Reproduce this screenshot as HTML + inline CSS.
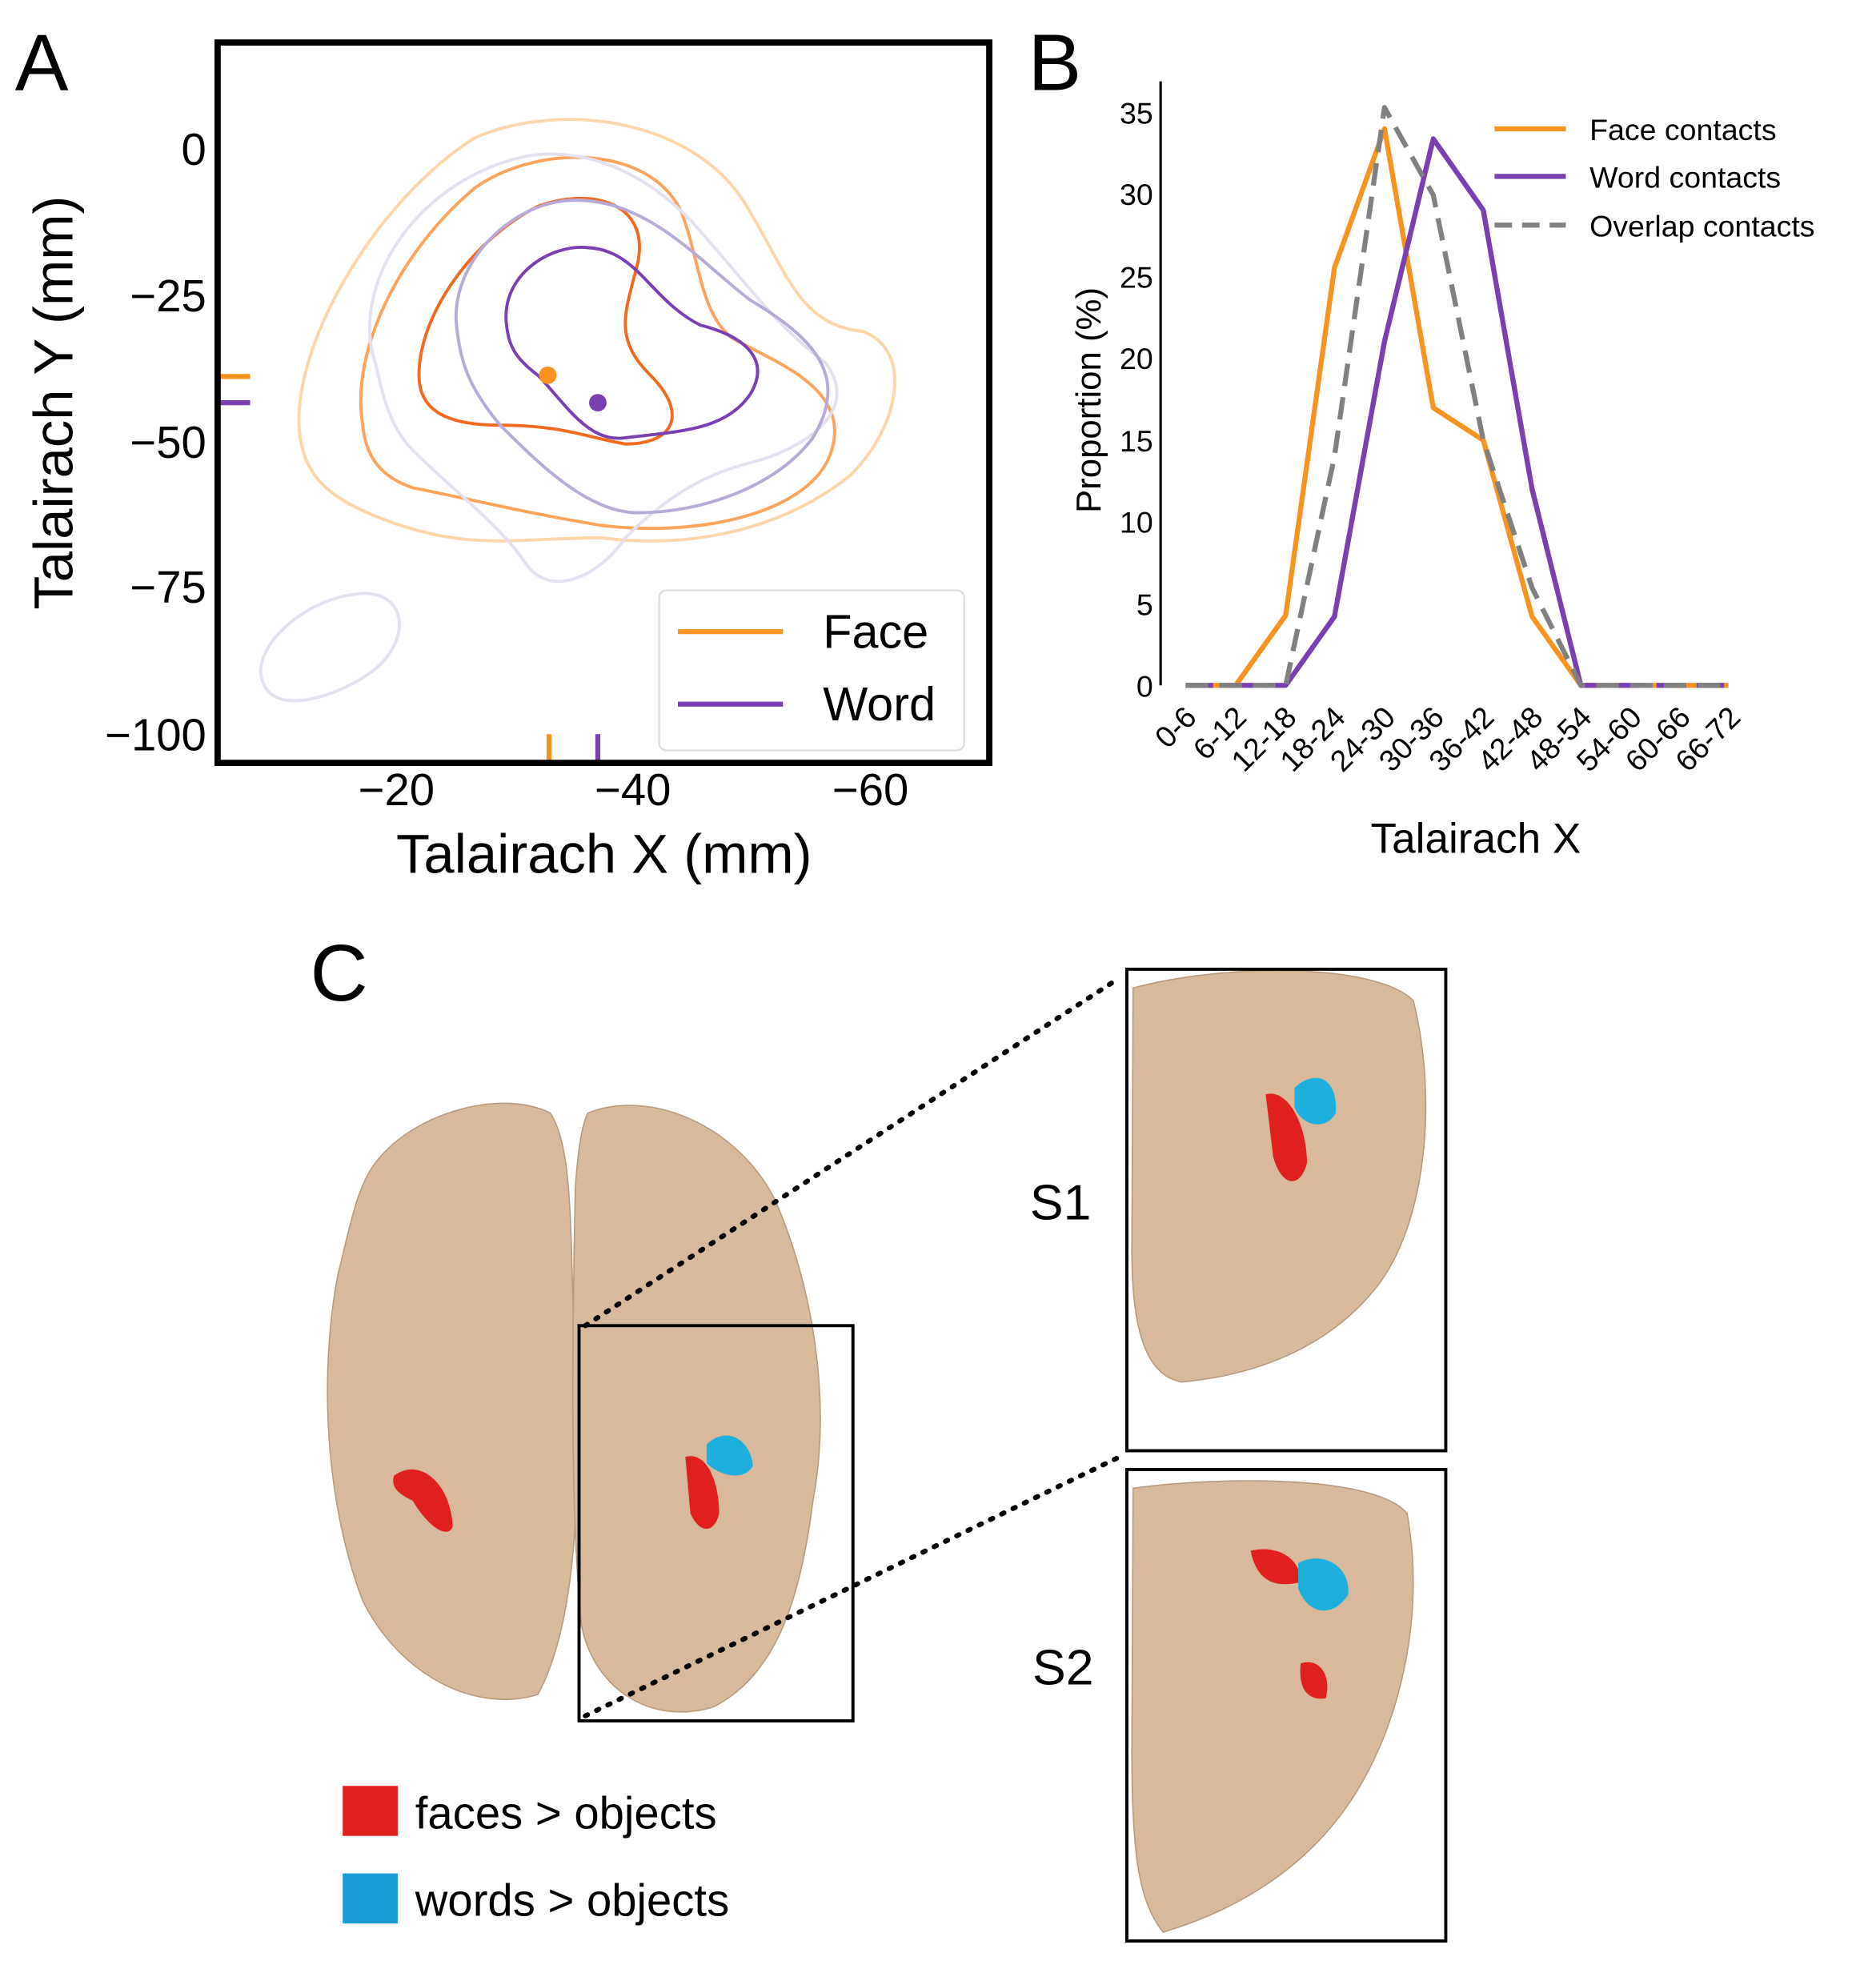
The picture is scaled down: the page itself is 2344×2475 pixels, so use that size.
<!DOCTYPE html>
<html><head><meta charset="utf-8"><style>
html,body{margin:0;padding:0;background:#fff;}
svg{display:block;}
text{font-family:"Liberation Sans",sans-serif;}
</style></head><body>
<svg width="2344" height="2475" viewBox="0 0 1500 1584" preserveAspectRatio="none" xmlns="http://www.w3.org/2000/svg">
<rect width="1500" height="1584" fill="#fff"/>
<!-- Panel A -->
<text x="12" y="72" font-size="64">A</text>
<g fill="none" stroke-width="2.5">
<path d="M240,350 C230,280 300,160 380,110 C450,80 560,95 600,170 C630,220 640,260 690,265 C730,280 720,340 680,380 C630,420 560,440 480,430 C420,430 380,440 320,420 C260,400 245,380 240,350Z" stroke="#fdd5a8"/>
<path d="M290,340 C280,280 320,200 380,150 C430,115 520,115 545,170 C560,210 560,250 585,270 C620,290 680,310 665,360 C650,410 560,430 480,420 C420,410 380,400 330,390 C300,380 292,360 290,340Z" stroke="#fda35a"/>
<path d="M335,300 C335,250 380,190 430,165 C470,150 520,160 510,210 C500,250 490,270 520,300 C550,330 540,355 500,355 C470,350 450,340 400,340 C360,340 335,330 335,300Z" stroke="#f26a1e"/>
<path d="M300,290 C280,230 330,145 420,125 C480,115 530,150 560,185 C600,230 620,260 660,290 C690,330 640,360 600,370 C560,380 530,400 500,430 C480,460 440,480 420,450 C400,420 360,390 330,360 C310,340 305,310 300,290Z" stroke="#e3e0f0"/>
<path d="M365,260 C360,210 410,160 460,160 C520,160 560,210 600,240 C650,270 680,300 650,350 C620,390 560,410 510,410 C470,410 430,370 400,340 C375,310 368,290 365,260Z" stroke="#b8aad8"/>
<path d="M405,260 C400,220 440,195 470,198 C510,200 520,240 560,260 C600,270 615,290 600,315 C580,345 540,345 500,350 C470,355 450,320 430,300 C410,285 407,275 405,260Z" stroke="#7a3fb0"/>
<path d="M210,545 C200,520 240,480 285,475 C325,470 330,510 300,535 C275,555 220,575 210,545Z" stroke="#e3e0f0"/>
</g>
<circle cx="438" cy="300" r="7" fill="#f7931e"/>
<circle cx="478" cy="322" r="7" fill="#7a3fb0"/>
<line x1="174" y1="301" x2="200" y2="301" stroke="#f7931e" stroke-width="4"/>
<line x1="174" y1="322" x2="200" y2="322" stroke="#7a3fb0" stroke-width="4"/>
<line x1="439" y1="587" x2="439" y2="610" stroke="#f7931e" stroke-width="4"/>
<line x1="478" y1="587" x2="478" y2="610" stroke="#7a3fb0" stroke-width="4"/>
<rect x="527" y="472" width="244" height="128" rx="6" fill="#fff" stroke="#ddd" stroke-width="1.5"/>
<line x1="542" y1="505" x2="626" y2="505" stroke="#f7931e" stroke-width="4"/>
<line x1="542" y1="563" x2="626" y2="563" stroke="#7a3fb0" stroke-width="4"/>
<text x="658" y="518" font-size="38">Face</text>
<text x="658" y="576" font-size="38">Word</text>
<rect x="174" y="34" width="617" height="576" fill="none" stroke="#000" stroke-width="5"/>
<g font-size="36" text-anchor="end">
<text x="165" y="132">0</text><text x="165" y="249">−25</text><text x="165" y="366">−50</text><text x="165" y="482">−75</text><text x="165" y="600">−100</text>
</g>
<g font-size="36" text-anchor="middle">
<text x="317" y="644">−20</text><text x="506" y="644">−40</text><text x="696" y="644">−60</text>
</g>
<text x="483" y="698" font-size="44" text-anchor="middle">Talairach X (mm)</text>
<text transform="translate(58,322) rotate(-90)" font-size="44" text-anchor="middle">Talairach Y (mm)</text>
<!-- Panel B -->
<text x="822" y="72" font-size="64">B</text>
<line x1="928" y1="65" x2="928" y2="548" stroke="#000" stroke-width="2"/>
<g font-size="24" text-anchor="end">
<text x="922" y="557">0</text><text x="922" y="492">5</text><text x="922" y="426">10</text><text x="922" y="361">15</text><text x="922" y="295">20</text><text x="922" y="230">25</text><text x="922" y="164">30</text><text x="922" y="99">35</text>
</g>
<text transform="translate(880,320) rotate(-90)" font-size="28" text-anchor="middle">Proportion (%)</text>
<g fill="none" stroke-width="4" stroke-linejoin="round">
<polyline stroke="#f7931e" points="948,548 988,548 1028,492 1067,214 1107,103 1146,326 1186,352 1225,493 1264,548 1382,548"/>
<polyline stroke="#7a3fb0" points="948,548 1028,548 1067,493 1107,273 1146,111 1186,168 1225,391 1264,548 1382,548" stroke-dasharray="22,10"/>
<polyline stroke="#7a3fb0" points="1028,548 1067,493 1107,273 1146,111 1186,168 1225,391 1264,548"/>
<polyline stroke="#808080" points="948,548 1028,548 1067,365 1107,86 1146,156 1186,352 1225,470 1264,548 1382,548" stroke-dasharray="18,9"/>
</g>
<g font-size="24">
<text transform="translate(958,575) rotate(-45)" text-anchor="end">0-6</text>
<text transform="translate(998,575) rotate(-45)" text-anchor="end">6-12</text>
<text transform="translate(1038,575) rotate(-45)" text-anchor="end">12-18</text>
<text transform="translate(1077,575) rotate(-45)" text-anchor="end">18-24</text>
<text transform="translate(1117,575) rotate(-45)" text-anchor="end">24-30</text>
<text transform="translate(1156,575) rotate(-45)" text-anchor="end">30-36</text>
<text transform="translate(1196,575) rotate(-45)" text-anchor="end">36-42</text>
<text transform="translate(1235,575) rotate(-45)" text-anchor="end">42-48</text>
<text transform="translate(1274,575) rotate(-45)" text-anchor="end">48-54</text>
<text transform="translate(1314,575) rotate(-45)" text-anchor="end">54-60</text>
<text transform="translate(1353,575) rotate(-45)" text-anchor="end">60-66</text>
<text transform="translate(1393,575) rotate(-45)" text-anchor="end">66-72</text>
</g>
<text x="1180" y="682" font-size="34" text-anchor="middle">Talairach X</text>
<line x1="1195" y1="103" x2="1252" y2="103" stroke="#f7931e" stroke-width="4"/>
<line x1="1195" y1="141" x2="1252" y2="141" stroke="#7a3fb0" stroke-width="4"/>
<line x1="1195" y1="180" x2="1252" y2="180" stroke="#808080" stroke-width="4" stroke-dasharray="14,8"/>
<g font-size="24"><text x="1271" y="112">Face contacts</text><text x="1271" y="150">Word contacts</text><text x="1271" y="189">Overlap contacts</text></g>
<!-- Panel C -->
<text x="248" y="800" font-size="64">C</text>
<g fill="#d8b99b" stroke="#b89878" stroke-width="1">
<path d="M300,930 C330,890 400,870 440,890 C460,920 455,1000 460,1080 C465,1200 460,1300 430,1355 C380,1370 320,1340 290,1280 C260,1200 255,1100 270,1020 C280,980 285,950 300,930Z"/>
<path d="M470,890 C520,870 590,900 620,960 C650,1030 665,1120 650,1200 C640,1280 620,1340 570,1365 C520,1380 475,1350 465,1300 C455,1200 458,1050 460,950 C462,920 465,900 470,890Z"/>
<path d="M906,790 C980,770 1100,770 1130,800 C1150,880 1140,980 1100,1030 C1060,1080 1000,1100 945,1105 C915,1100 905,1060 905,1000Z"/>
<path d="M906,1190 C980,1180 1100,1180 1125,1210 C1140,1290 1120,1380 1080,1440 C1040,1500 980,1530 930,1545 C910,1520 905,1480 905,1400Z"/>
</g>
<g fill="#e0201e">
<path d="M315,1180 C335,1165 360,1185 362,1220 C360,1230 345,1225 330,1200 C320,1195 312,1190 315,1180Z"/>
<path d="M548,1165 C565,1160 575,1185 575,1210 C572,1225 560,1228 552,1210Z"/>
<path d="M1012,875 C1030,870 1045,900 1045,930 C1040,950 1025,950 1018,925Z"/>
<path d="M1000,1240 C1020,1235 1040,1245 1040,1265 C1020,1270 1005,1265 1000,1240Z"/>
<path d="M1040,1330 C1055,1325 1065,1340 1060,1358 C1045,1360 1038,1350 1040,1330Z"/>
</g>
<g fill="#1eb0dc">
<path d="M565,1155 C580,1140 600,1150 602,1172 C595,1185 575,1180 565,1170Z"/>
<path d="M1035,870 C1050,855 1070,860 1068,890 C1060,905 1040,900 1035,885Z"/>
<path d="M1038,1250 C1055,1240 1080,1250 1078,1275 C1065,1295 1045,1290 1038,1270Z"/>
</g>
<rect x="463" y="1060" width="219" height="316" fill="none" stroke="#000" stroke-width="2.5"/>
<rect x="901" y="775" width="255" height="385" fill="none" stroke="#000" stroke-width="2.5"/>
<rect x="901" y="1175" width="255" height="377" fill="none" stroke="#000" stroke-width="2.5"/>
<g stroke="#000" stroke-width="4" stroke-dasharray="2,8" stroke-linecap="round">
<line x1="468" y1="1060" x2="895" y2="782"/>
<line x1="468" y1="1372" x2="895" y2="1165"/>
</g>
<text x="848" y="975" font-size="40" text-anchor="middle">S1</text>
<text x="850" y="1347" font-size="40" text-anchor="middle">S2</text>
<rect x="274" y="1428" width="44" height="40" fill="#e0201e"/>
<rect x="274" y="1498" width="44" height="40" fill="#1a9ad6"/>
<text x="332" y="1462" font-size="36">faces &gt; objects</text>
<text x="332" y="1532" font-size="36">words &gt; objects</text>
</svg>
</body></html>
